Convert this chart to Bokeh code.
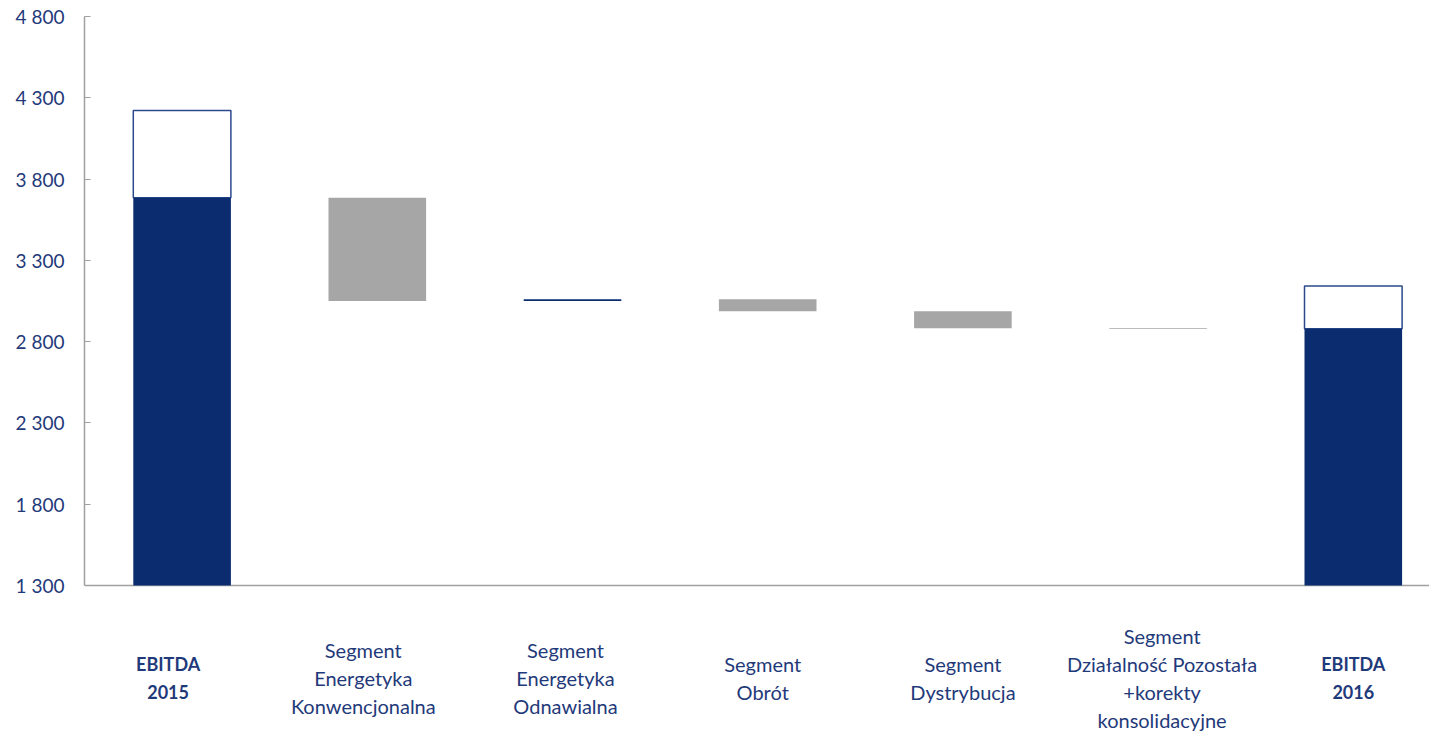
from bokeh.plotting import figure
from bokeh.models import Range1d, FixedTicker, ColumnDataSource
from bokeh.core.properties import value
from bokeh.embed import file_html
from bokeh.resources import INLINE

# ---- data ----
categories = ["EBITDA\n2015",
              "Segment\nEnergetyka\nKonwencjonalna",
              "Segment\nEnergetyka\nOdnawialna",
              "Segment\nObrót",
              "Segment\nDystrybucja",
              "Segment\nDziałalność Pozostała\n+korekty\nkonsolidacyjne",
              "EBITDA\n2016"]
bold_labels = [True, False, False, False, False, False, True]
ebitda_2015_base = 3685      # navy part
ebitda_2015_total = 4222     # outlined box top
segment_changes = [-635, 10, -73, -104, -5]
ebitda_2016_base = 2880
ebitda_2016_total = 3143
y_ticks = [1300, 1800, 2300, 2800, 3300, 3800, 4300, 4800]
y_tick_labels = ["1 300", "1 800", "2 300", "2 800", "3 300", "3 800", "4 300", "4 800"]

# ---- styling / layout ----
NAVY = "#0B2D6F"
GREY = "#A6A6A6"
TEXT = "#1F3A7A"
AXIS = "#A0A0A0"
FONT = "Lato"
label_shift_px = [-14, -14, -7, -5, 0, 4, 0]   # horizontal nudge of category labels

W, H = 1429, 733
left, top = 84, 16
y1 = 4800
unit_px = 569 / 3500            # px per data unit (from the reference grid)
y0 = y1 - (H - top) / unit_px
x0 = -0.5
x1 = x0 + (W - left) / 195.2
ppu = (H - top) / (y1 - y0)

p = figure(width=W, height=H, x_range=Range1d(x0, x1), y_range=Range1d(y0, y1),
           output_backend="svg", toolbar_location=None, x_axis_location=None,
           min_border_left=left, min_border_right=0, min_border_top=top, min_border_bottom=0)
p.outline_line_color = None
p.grid.visible = False
p.background_fill_color = "white"
p.border_fill_color = "white"

ax = p.yaxis[0]
ax.ticker = FixedTicker(ticks=y_ticks)
ax.major_label_overrides = {t: l for t, l in zip(y_ticks, y_tick_labels)}
ax.bounds = (y_ticks[0], y_ticks[-1])
ax.axis_line_color = AXIS
ax.axis_line_width = 1.5
ax.major_tick_line_color = AXIS
ax.major_tick_in = 6
ax.major_tick_out = 0
ax.minor_tick_line_color = None
ax.major_label_text_font = FONT
ax.major_label_text_font_size = "19px"
ax.major_label_text_color = TEXT
ax.major_label_standoff = 20

base = y_ticks[0]

# x axis line
p.segment(x0=[x0], y0=[base], x1=[x1], y1=[base], line_color=AXIS, line_width=1.5)

# EBITDA totals (outlined boxes)
p.vbar(x=[0, 6], bottom=[ebitda_2015_base, ebitda_2016_base],
       top=[ebitda_2015_total, ebitda_2016_total], width=0.5,
       fill_color="white", line_color="#2A4A8C", line_width=1.5)
# EBITDA base bars
p.vbar(x=[0, 6], bottom=[base, base], top=[ebitda_2015_base, ebitda_2016_base],
       width=0.5, fill_color=NAVY, line_color=None)

# segment change bars
bottoms, tops, colors = [], [], []
level = ebitda_2015_base
for c in segment_changes:
    new = level + c
    bottoms.append(min(level, new))
    tops.append(max(level, new))
    colors.append(NAVY if c > 0 else GREY)
    level = new
p.vbar(x=list(range(1, 6)), bottom=bottoms, top=tops, width=0.5,
       fill_color=colors, line_color=None)

# category labels
center_px = 677 - top   # pixel distance from top of frame
line_px = 28
xs, ys, txt, styles, sizes, offs = [], [], [], [], [], []
for i, (lab, b) in enumerate(zip(categories, bold_labels)):
    lines = lab.split("\n")
    n = len(lines)
    for k, ln in enumerate(lines):
        off = center_px + (k - (n - 1) / 2) * line_px
        xs.append(i)
        ys.append(y1 - off / ppu)
        txt.append(ln)
        styles.append("bold" if b else "normal")
        sizes.append("18px" if b else "20px")
        offs.append(label_shift_px[i])
src = ColumnDataSource(dict(x=xs, y=ys, text=txt, style=styles, size=sizes, xo=offs))
p.text(x="x", y="y", text="text", source=src, text_align="center", text_baseline="middle",
       x_offset="xo", text_font=value(FONT), text_font_size="size", text_color=TEXT,
       text_font_style="style")

open("out.html", "w").write(file_html(p, INLINE))
